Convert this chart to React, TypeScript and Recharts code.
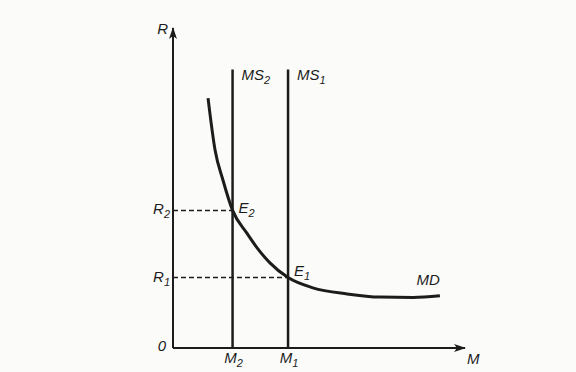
import {
  LineChart,
  Line,
  XAxis,
  YAxis,
  ReferenceLine,
  ReferenceDot
} from "recharts";

// money demand curve
const mdM = [12, 14.4, 17.1, 20.4, 25.3, 28.8, 33.2, 39.4, 47.9, 59.6, 70.9, 82.2, 91.4];
const mdR = [78.1, 61.9, 52.5, 43.0, 35.9, 31.3, 26.6, 22.0, 18.8, 16.9, 15.9, 15.8, 16.3];

// money supply levels and the matching rates
const msLevels = [20.4, 39.4];
const msNames = ["2", "1"];
const rates = [43, 22];
const msTop = 87;

const ink = "#1c1c1c";
const font = "'Liberation Sans', Arial, sans-serif";

const data = mdM.map((m, i) => ({ m, r: mdR[i] }));

const Label = ({ x, y, main, sub, anchor = "start" }: any) => (
  <text
    x={x}
    y={y}
    fill={ink}
    fontFamily={font}
    fontStyle="italic"
    fontSize={15}
    textAnchor={anchor}
  >
    {main}
    {sub ? (
      <tspan fontSize={11} dy={4}>
        {sub}
      </tspan>
    ) : null}
  </text>
);

const XTick = ({ x, y, payload }: any) => {
  const i = msLevels.indexOf(payload.value);
  return <Label x={x + 1} y={y + 7} main="M" sub={msNames[i]} anchor="middle" />;
};

const YTick = ({ x, y, payload }: any) => {
  if (payload.value === 0) return <Label x={x + 1} y={y + 3} main="0" anchor="end" />;
  const i = rates.indexOf(payload.value);
  return <Label x={x + 5} y={y + 4} main="R" sub={msNames[i]} anchor="end" />;
};

const App = () => {
  return (
    <div style={{ position: "absolute", left: 0, top: 0, background: "#fbfbfa" }}>
      <LineChart
        width={576}
        height={372}
        data={data}
        margin={{ top: 28, right: 111, left: 133, bottom: 0 }}
      >
        <defs>
          <marker
            id="arrow"
            viewBox="0 0 12 8"
            refX={11}
            refY={4}
            markerWidth={12}
            markerHeight={8}
            markerUnits="userSpaceOnUse"
            orient="auto-start-reverse"
          >
            <path d="M0,0 L12,4 L0,8 L3,4 Z" fill={ink} />
          </marker>
        </defs>
        <XAxis
          dataKey="m"
          type="number"
          domain={[0, 100]}
          ticks={msLevels}
          interval={0}
          tickLine={false}
          tick={<XTick />}
          height={24}
          axisLine={{ stroke: ink, strokeWidth: 2, markerEnd: "url(#arrow)" }}
        />
        <YAxis
          type="number"
          domain={[0, 100]}
          ticks={[0, ...rates]}
          interval={0}
          tickLine={false}
          tick={<YTick />}
          width={40}
          axisLine={{ stroke: ink, strokeWidth: 2, markerStart: "url(#arrow)" }}
        />
        {msLevels.map((m, i) => (
          <ReferenceLine
            key={"ms" + i}
            segment={[
              { x: m, y: 0 },
              { x: m, y: msTop }
            ]}
            stroke={ink}
            strokeWidth={2.5}
          />
        ))}
        {msLevels.map((m, i) => (
          <ReferenceLine
            key={"dash" + i}
            segment={[
              { x: 0, y: rates[i] },
              { x: m, y: rates[i] }
            ]}
            stroke={ink}
            strokeWidth={1.5}
            strokeDasharray="5 3"
          />
        ))}
        <Line
          type="monotone"
          dataKey="r"
          stroke={ink}
          strokeWidth={3}
          dot={false}
          isAnimationActive={false}
        />
        {msLevels.map((m, i) => (
          <ReferenceDot
            key={"msl" + i}
            x={m}
            y={msTop}
            shape={(p: any) => <Label x={p.cx + 9} y={p.cy + 10} main="MS" sub={msNames[i]} />}
          />
        ))}
        {msLevels.map((m, i) => (
          <ReferenceDot
            key={"e" + i}
            x={m}
            y={rates[i]}
            shape={(p: any) => (
              <Label x={p.cx + 6} y={p.cy + (i === 0 ? 3 : -2)} main="E" sub={msNames[i]} />
            )}
          />
        ))}
        <ReferenceDot
          x={mdM[mdM.length - 1]}
          y={mdR[mdR.length - 1]}
          shape={(p: any) => <Label x={p.cx} y={p.cy - 11} main="MD" anchor="end" />}
        />
        <ReferenceDot
          x={100}
          y={0}
          shape={(p: any) => <Label x={p.cx + 2} y={p.cy + 16} main="M" />}
        />
        <ReferenceDot
          x={0}
          y={100}
          shape={(p: any) => <Label x={p.cx - 5} y={p.cy + 6} main="R" anchor="end" />}
        />
      </LineChart>
    </div>
  );
};

export default App;
